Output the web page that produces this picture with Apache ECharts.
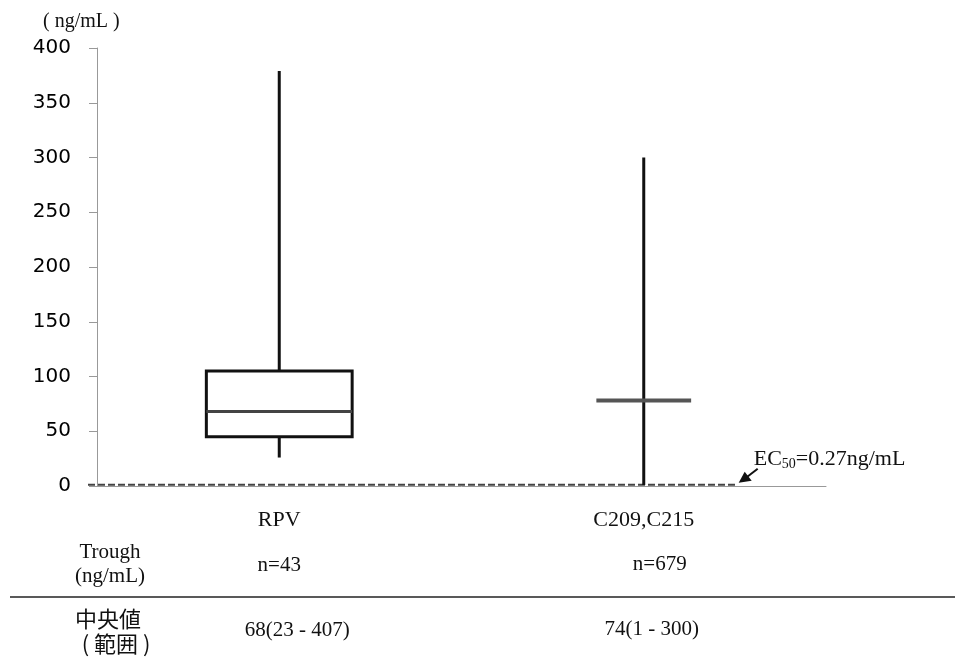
<!DOCTYPE html>
<html>
<head>
<meta charset="utf-8">
<script src="https://cdn.jsdelivr.net/npm/echarts@6/dist/echarts.min.js"></script>
<style>
  html, body { margin: 0; padding: 0; background: #fff; }
  #chart { width: 955px; height: 659px; }
</style>
</head>
<body>
<div id="chart"></div>
<script>
// data
const categories = ["RPV", "C209,C215"];
const whiskerLow = [26, 1];
const q1 = [45, null];
const median = [68, 78];
const q3 = [105, null];
const whiskerHigh = [379, 300];
const ec50 = 0.27;
const nCounts = ["n=43", "n=679"];
const summary = ["68(23 - 407)", "74(1 - 300)"];

const serif = "'Liberation Serif', 'Times New Roman', 'Noto Sans CJK JP', serif";
const cjk = "'Noto Sans CJK JP', sans-serif";

const chart = echarts.init(document.getElementById("chart"));

function renderBox(params, api) {
  const i = api.value(0);
  const x = api.coord([i, 0])[0];
  const band = api.size([1, 0])[0];
  const lo = api.coord([i, api.value(1)])[1];
  const hi = api.coord([i, api.value(5)])[1];
  const med = api.coord([i, api.value(3)])[1];
  const children = [];
  const black = { stroke: "#111", lineWidth: 3 };
  if (q1[i] != null) {
    const b1 = api.coord([i, api.value(2)])[1];
    const b3 = api.coord([i, api.value(4)])[1];
    const hw = band * 0.2;
    children.push({ type: "line", shape: { x1: x, y1: hi, x2: x, y2: b3 }, style: black });
    children.push({ type: "line", shape: { x1: x, y1: b1, x2: x, y2: lo }, style: black });
    children.push({
      type: "rect",
      shape: { x: x - hw, y: b3, width: hw * 2, height: b1 - b3 },
      style: { fill: "#fff", stroke: "#111", lineWidth: 3 }
    });
    children.push({
      type: "line",
      shape: { x1: x - hw, y1: med, x2: x + hw, y2: med },
      style: { stroke: "#444", lineWidth: 3 }
    });
  } else {
    const hw = band * 0.13;
    children.push({ type: "line", shape: { x1: x, y1: hi, x2: x, y2: lo }, style: black });
    children.push({
      type: "line",
      shape: { x1: x - hw, y1: med, x2: x + hw, y2: med },
      style: { stroke: "#555", lineWidth: 4 }
    });
  }
  return { type: "group", children: children };
}

function renderEc50(params, api) {
  const band = api.size([1, 0])[0];
  const p0 = api.coord([0, api.value(1)]);
  const p1 = api.coord([1, api.value(1)]);
  const y = p0[1] - 1;
  const xs = p0[0] - band / 2 - 9;
  const xe = p1[0] + band * 0.255;
  return {
    type: "group",
    children: [
      {
        type: "line",
        shape: { x1: xs, y1: y, x2: xe, y2: y },
        style: { stroke: "#444", lineWidth: 2, lineDash: [7, 3] }
      },
      {
        type: "line",
        shape: { x1: xe + 21, y1: y - 16, x2: xe + 8, y2: y - 6 },
        style: { stroke: "#111", lineWidth: 2 }
      },
      {
        type: "polygon",
        shape: { points: [[xe + 2, y - 2], [xe + 15, y - 4], [xe + 8, y - 13]] },
        style: { fill: "#111" }
      },
      {
        type: "text",
        x: xe + 17,
        y: y - 25,
        style: {
          text: "{a|EC}{s|50}{a|=" + api.value(1) + "ng/mL}",
          verticalAlign: "middle",
          rich: {
            a: { fontFamily: serif, fontSize: 22, fill: "#111", lineHeight: 26 },
            s: { fontFamily: serif, fontSize: 14, fill: "#111", lineHeight: 26, padding: [9, 0, 0, 0] }
          }
        }
      }
    ]
  };
}

const boxData = categories.map((c, i) => [i, whiskerLow[i], q1[i], median[i], q3[i], whiskerHigh[i]]);

chart.setOption({
  animation: false,
  title: {
    text: "( ng/mL )",
    left: 38,
    top: 7,
    textStyle: { fontFamily: serif, fontSize: 20, fontWeight: "normal", color: "#111" }
  },
  grid: { left: 97, right: 129, top: 48, bottom: 173 },
  xAxis: {
    type: "category",
    data: categories,
    axisLine: { lineStyle: { color: "#999", width: 1 } },
    axisTick: { length: 5, lineStyle: { color: "#999" } },
    axisLabel: { margin: 23, fontFamily: serif, fontSize: 22, color: "#111" },
    splitLine: { show: false }
  },
  yAxis: {
    type: "value",
    min: 0,
    max: 400,
    interval: 50,
    axisLine: { show: true, lineStyle: { color: "#999", width: 1 } },
    axisTick: { show: true, length: 8, lineStyle: { color: "#999" } },
    axisLabel: { margin: 26, fontFamily: "'DejaVu Sans', sans-serif", fontSize: 20, color: "#000" },
    splitLine: { show: false }
  },
  series: [
    {
      type: "custom",
      renderItem: renderEc50,
      data: [[0, ec50]],
      encode: { x: 0, y: 1 },
      z: 1
    },
    {
      type: "custom",
      renderItem: renderBox,
      data: boxData,
      encode: { x: 0, y: [1, 5] },
      z: 2
    }
  ]
});

// table under the chart, placed at the category positions
const cx = categories.map((c, i) => chart.convertToPixel({ xAxisIndex: 0 }, i));
const txt = (text, x, y, font, size) => ({
  type: "text",
  x: x,
  y: y,
  style: { text: text, fontFamily: font, fontSize: size, fill: "#111", align: "center", verticalAlign: "middle" }
});
chart.setOption({
  graphic: [
    txt("Trough", 110, 552, serif, 21),
    txt("(ng/mL)", 110, 576, serif, 21),
    txt(nCounts[0], cx[0], 565, serif, 21),
    txt(nCounts[1], cx[1] + 16, 564, serif, 21),
    {
      type: "line",
      shape: { x1: 10, y1: 597, x2: 955, y2: 597 },
      style: { stroke: "#222", lineWidth: 1.5 }
    },
    txt("中央値", 108, 619, cjk, 22),
    txt("( 範囲 )", 116, 644, cjk, 22),
    txt(summary[0], cx[0] + 18, 630, serif, 21),
    txt(summary[1], cx[1] + 8, 629, serif, 21)
  ]
});
</script>
</body>
</html>
